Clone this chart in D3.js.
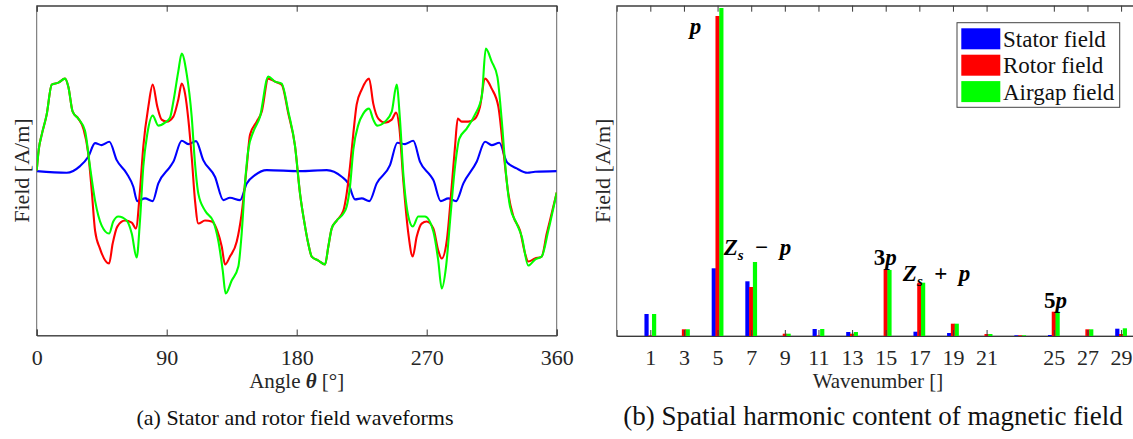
<!DOCTYPE html>
<html>
<head>
<meta charset="utf-8">
<script src="https://cdn.jsdelivr.net/npm/d3@7"></script>
<style>
  html, body { margin: 0; padding: 0; background: #fff; }
  svg { display: block; }
  text { font-family: "Liberation Serif", "Times New Roman", serif; }
</style>
</head>
<body>
<svg id="chart" width="1133" height="439"></svg>
<script>
// ---------------- DATA ----------------
// (a) field waveforms: [angle in degrees, field (arbitrary units)]
const statorField = [[0,-0.005],[20.8,-0.022],[30.0,0.045],[35.7,0.138],[40.4,0.275],[45.0,0.255],[50.3,0.288],[55.4,0.105],[62.3,-0.028],[66.9,-0.162],[69.6,-0.305],[75.0,-0.278],[80.3,-0.305],[84.2,-0.128],[92.3,0.038],[94.6,0.088],[100.4,0.298],[105.0,0.265],[110.3,0.295],[115.3,0.105],[123.4,-0.062],[129.2,-0.295],[133.8,-0.272],[140.8,-0.295],[145.4,-0.128],[151.1,-0.045],[159.2,0.005],[182.3,-0.005],[200.8,0.005],[211.2,-0.062],[215.7,-0.128],[220.4,-0.288],[225.0,-0.278],[230.3,-0.305],[235.4,-0.128],[244.6,0.055],[249.7,0.278],[255.0,0.265],[260.7,0.298],[265.4,0.088],[272.3,-0.045],[274.6,-0.095],[279.7,-0.305],[285.0,-0.278],[290.3,-0.305],[295.4,-0.128],[304.6,0.088],[310.4,0.288],[315.0,0.255],[320.3,0.278],[325.4,0.088],[332.3,0.022],[339.7,-0.022],[345.0,-0.012],[360,-0.005]];

const rotorField = [[0,0.00],[1.5,0.22],[3.5,0.36],[6.9,0.56],[10.4,0.86],[15.0,0.88],[19.6,0.92],[21.9,0.84],[24.9,0.59],[28.8,0.52],[32.3,0.42],[35.7,0.17],[38.1,-0.20],[40.4,-0.60],[43.8,-0.78],[50.1,-0.93],[52.6,-0.73],[55.8,-0.56],[61.1,-0.50],[65.8,-0.52],[68.7,-0.58],[71.5,-0.20],[73.8,0.24],[77.3,0.64],[80.3,0.86],[83.5,0.64],[86.5,0.51],[90.0,0.49],[94.6,0.54],[98.0,0.71],[100.4,0.87],[102.7,0.77],[105.0,0.51],[107.3,0.14],[109.6,-0.30],[111.9,-0.53],[116.5,-0.50],[121.2,-0.51],[125.0,-0.60],[128.1,-0.76],[130.4,-0.94],[133.8,-0.86],[138.5,-0.71],[141.9,-0.43],[145.4,0.04],[147.7,0.36],[152.3,0.49],[155.8,0.59],[160.3,0.92],[165.0,0.89],[169.6,0.86],[174.2,0.57],[178.8,0.25],[182.3,-0.23],[185.8,-0.56],[188.0,-0.73],[190.4,-0.86],[195.0,-0.90],[199.6,-0.94],[201.9,-0.76],[204.2,-0.58],[207.7,-0.50],[212.3,-0.40],[214.6,-0.23],[216.9,0.04],[219.2,0.37],[221.5,0.66],[225.0,0.81],[230.1,0.92],[233.0,0.67],[236.5,0.52],[241.1,0.48],[245.8,0.51],[248.8,0.58],[251.0,0.44],[253.8,-0.10],[257.3,-0.63],[260.3,-0.86],[263.1,-0.66],[266.5,-0.53],[270.0,-0.51],[274.6,-0.58],[278.0,-0.80],[280.4,-0.88],[283.9,-0.70],[287.3,-0.16],[289.6,0.24],[291.5,0.52],[294.2,0.49],[298.8,0.49],[303.4,0.52],[306.9,0.64],[310.4,0.92],[315.0,0.82],[319.6,0.64],[323.0,0.21],[326.5,-0.23],[330.0,-0.46],[334.6,-0.60],[338.1,-0.83],[340.3,-0.91],[345.0,-0.88],[349.6,-0.86],[353.1,-0.63],[356.5,-0.43],[360,-0.22]];

const airgapField = [[0,0.00],[1.5,0.22],[3.5,0.36],[6.9,0.56],[10.4,0.86],[15.0,0.88],[19.6,0.92],[21.9,0.84],[24.9,0.59],[28.8,0.52],[33.4,0.40],[36.9,0.04],[40.4,-0.30],[45.0,-0.55],[50.1,-0.63],[53.0,-0.51],[56.5,-0.46],[62.3,-0.50],[65.8,-0.63],[69.2,-0.87],[71.5,-0.50],[73.8,0.04],[76.6,0.37],[80.3,0.55],[84.2,0.45],[88.8,0.48],[92.3,0.53],[94.6,0.69],[98.0,0.99],[100.4,1.17],[103.8,0.97],[107.3,0.54],[109.6,0.07],[111.9,-0.23],[116.5,-0.40],[122.3,-0.51],[125.7,-0.70],[128.8,-1.00],[130.8,-1.23],[135.0,-1.10],[139.6,-0.96],[141.9,-0.63],[144.2,-0.13],[146.5,0.21],[150.0,0.39],[154.6,0.54],[160.3,0.94],[165.0,0.89],[169.6,0.87],[174.2,0.59],[178.8,0.25],[182.3,-0.23],[185.8,-0.56],[188.0,-0.73],[190.4,-0.86],[195.0,-0.90],[199.6,-0.94],[201.9,-0.76],[204.2,-0.58],[207.7,-0.50],[212.3,-0.43],[214.6,-0.36],[216.9,-0.16],[219.2,0.21],[222.7,0.46],[226.1,0.57],[230.1,0.62],[233.0,0.51],[235.8,0.45],[241.1,0.49],[245.8,0.59],[249.2,0.86],[251.5,0.51],[253.8,-0.03],[257.3,-0.46],[260.3,-0.56],[264.2,-0.46],[268.8,-0.46],[274.6,-0.61],[278.0,-0.90],[280.4,-1.18],[283.4,-0.96],[286.6,-0.43],[289.6,0.04],[292.6,0.32],[297.7,0.42],[303.4,0.56],[308.1,0.74],[310.9,1.22],[315.0,1.09],[318.9,0.94],[321.9,0.51],[324.9,-0.03],[327.7,-0.36],[332.3,-0.53],[335.8,-0.66],[340.3,-0.95],[345.0,-0.89],[349.6,-0.86],[354.2,-0.60],[360,-0.22]];

const angleTicks = [0, 90, 180, 270, 360];

// (b) spatial harmonics
const wavenumbers = [1, 3, 5, 7, 9, 11, 13, 15, 17, 19, 21, 23, 25, 27, 29];
const statorHarm = [0.22, 0, 0.677, 0.547, 0, 0.07, 0.04, 0, 0.043, 0.03, 0, 0.007, 0.01, 0, 0.073];
const rotorHarm  = [0.005, 0.067, 3.20, 0.49, 0.023, 0.005, 0.023, 0.66, 0.533, 0.123, 0.02, 0.007, 0.243, 0.067, 0.02];
const airgapHarm = [0.22, 0.067, 3.28, 0.74, 0.023, 0.07, 0.04, 0.66, 0.533, 0.123, 0.02, 0.007, 0.243, 0.067, 0.077];
const waveTicks = [1, 3, 5, 7, 9, 11, 13, 15, 17, 19, 21, 25, 27, 29];

const seriesNames = ["Stator field", "Rotor field", "Airgap field"];
const seriesColors = ["#0000ff", "#ff0000", "#00ff00"];

// harmonic annotations: [wavenumber position, field position, pieces]
const annotations = [
  { k: 3.35, v: 3.02, parts: [["p", "italic"]] },
  { k: 5.36, v: 0.81, parts: [["Z", "italic"], ["s", "sub"], ["\u2002\u2212\u2002", "normal"], ["p", "italic"]] },
  { k: 14.29, v: 0.71, parts: [["3", "normal"], ["p", "italic"]] },
  { k: 16.02, v: 0.554, parts: [["Z", "italic"], ["s", "sub"], ["\u2002+\u2002", "normal"], ["p", "italic"]] },
  { k: 24.42, v: 0.28, parts: [["5", "normal"], ["p", "italic"]] }
];

// ---------------- DRAWING ----------------
const svg = d3.select("#chart");
const axisColor = "#3a3a3a";
const textColor = "#262626";
const tickLen = 6;

// ===== Panel (a) =====
const A = { left: 36.7, right: 556.7, top: 5.7, bottom: 335.5 };
const xA = d3.scaleLinear().domain([0, 360]).range([A.left, A.right]);
const yA = d3.scaleLinear().domain([-1.65, 1.65]).range([A.bottom, A.top]);

const gA = svg.append("g");
gA.append("rect").attr("x", A.left).attr("y", A.top)
  .attr("width", A.right - A.left).attr("height", A.bottom - A.top)
  .attr("fill", "none").attr("stroke", "#666").attr("stroke-width", 1);

const axBottomA = d3.axisBottom(xA).tickValues(angleTicks).tickSize(-tickLen).tickFormat(d3.format("d"));
const gxa = gA.append("g").attr("transform", `translate(0,${A.bottom})`).call(axBottomA);
const axTopA = d3.axisTop(xA).tickValues(angleTicks).tickSize(-tickLen).tickFormat("");
const gxat = gA.append("g").attr("transform", `translate(0,${A.top})`).call(axTopA);
[gxa, gxat].forEach(g => {
  g.select(".domain").attr("stroke", axisColor);
  g.selectAll(".tick line").attr("stroke", axisColor);
});
gxa.selectAll(".tick text").attr("font-size", 22).attr("fill", textColor)
  .attr("font-family", "Liberation Serif").attr("dy", null).attr("y", 365 - A.bottom);

const line = d3.line().x(d => xA(d[0])).y(d => yA(d[1])).curve(d3.curveMonotoneX);
svg.append("clipPath").attr("id", "clipA").append("rect")
  .attr("x", A.left).attr("y", A.top).attr("width", A.right - A.left).attr("height", A.bottom - A.top);
const linesG = gA.append("g").attr("clip-path", "url(#clipA)");
[statorField, rotorField, airgapField].forEach((s, i) => {
  linesG.append("path").datum(s).attr("d", line)
    .attr("fill", "none").attr("stroke", seriesColors[i]).attr("stroke-width", 2.1)
    .attr("stroke-linejoin", "round");
});

const xlabA = gA.append("text").attr("x", (A.left + A.right) / 2).attr("y", 388)
  .attr("text-anchor", "middle").attr("font-size", 21).attr("fill", textColor);
xlabA.append("tspan").text("Angle ");
xlabA.append("tspan").text("\u03b8").attr("font-weight", "bold").attr("font-style", "italic");
xlabA.append("tspan").text(" [\u00b0]");

gA.append("text").attr("transform", `translate(29,${(A.top + A.bottom) / 2}) rotate(-90)`)
  .attr("text-anchor", "middle").attr("font-size", 22).attr("fill", textColor).text("Field [A/m]");

gA.append("text").attr("x", 295).attr("y", 425).attr("text-anchor", "middle")
  .attr("font-size", 22).attr("fill", "#111").text("(a) Stator and rotor field waveforms");

// ===== Panel (b) =====
const B = { left: 616.7, right: 1137.9, top: 5.7, bottom: 336 };
const xB = d3.scaleLinear().domain([-1, 30]).range([B.left, B.right]);
const yB = d3.scaleLinear().domain([0, 3.303]).range([B.bottom, B.top]);
const gB = svg.append("g");

gB.append("rect").attr("x", B.left).attr("y", B.top)
  .attr("width", B.right - B.left).attr("height", B.bottom - B.top)
  .attr("fill", "none").attr("stroke", "#666").attr("stroke-width", 1);

const barW = 0.25, offs = [-0.225, 0, 0.225];
const harmSeries = [statorHarm, rotorHarm, airgapHarm];
harmSeries.forEach((vals, si) => {
  gB.append("g").selectAll("rect").data(wavenumbers.map((k, i) => ({ k, v: vals[i] })))
    .join("rect")
    .attr("x", d => xB(d.k + offs[si] - barW / 2))
    .attr("width", d => xB(d.k + barW / 2) - xB(d.k - barW / 2))
    .attr("y", d => yB(d.v))
    .attr("height", d => yB(0) - yB(d.v))
    .attr("fill", seriesColors[si]);
});

const axBottomB = d3.axisBottom(xB).tickValues(waveTicks).tickSize(-tickLen).tickFormat(d3.format("d"));
const gxb = gB.append("g").attr("transform", `translate(0,${B.bottom})`).call(axBottomB);
const axTopB = d3.axisTop(xB).tickValues(waveTicks).tickSize(-tickLen).tickFormat("");
const gxbt = gB.append("g").attr("transform", `translate(0,${B.top})`).call(axTopB);
[gxb, gxbt].forEach(g => {
  g.select(".domain").attr("stroke", axisColor);
  g.selectAll(".tick line").attr("stroke", axisColor);
});
gxb.selectAll(".tick text").attr("font-size", 22).attr("fill", textColor)
  .attr("font-family", "Liberation Serif").attr("dy", null).attr("y", 365 - B.bottom);

gB.append("text").attr("x", 878).attr("y", 388).attr("text-anchor", "middle")
  .attr("font-size", 21).attr("fill", textColor).text("Wavenumber []");
gB.append("text").attr("transform", `translate(610,${(B.top + B.bottom) / 2}) rotate(-90)`)
  .attr("text-anchor", "middle").attr("font-size", 22).attr("fill", textColor).text("Field [A/m]");

// annotations
annotations.forEach(a => {
  const t = gB.append("text").attr("x", xB(a.k)).attr("y", yB(a.v))
    .attr("font-size", 23).attr("font-weight", "bold").attr("fill", "#000");
  let prevSub = false;
  a.parts.forEach(([str, style]) => {
    const sp = t.append("tspan").text(str);
    if (style === "italic") sp.attr("font-style", "italic");
    if (style === "normal") sp.attr("font-style", "normal");
    if (style === "sub") sp.attr("font-style", "italic").attr("font-size", 15).attr("dy", 5);
    else if (prevSub) sp.attr("dy", -5);
    prevSub = style === "sub";
  });
});

// legend
const L = { x: 957, y: 22.7, w: 162.7, h: 84.6 };
const lg = gB.append("g");
lg.append("rect").attr("x", L.x).attr("y", L.y).attr("width", L.w).attr("height", L.h)
  .attr("fill", "#fff").attr("stroke", "#444").attr("stroke-width", 1);
seriesNames.forEach((name, i) => {
  const yy = 28.3 + i * 26.4;
  lg.append("rect").attr("x", 961.3).attr("y", yy).attr("width", 39).attr("height", 21)
    .attr("fill", seriesColors[i]);
  lg.append("text").attr("x", 1003).attr("y", yy + 18.4).attr("font-size", 23)
    .attr("fill", "#111").text(name);
});

gB.append("text").attr("x", 873).attr("y", 425).attr("text-anchor", "middle")
  .attr("font-size", 27).attr("fill", "#111").text("(b) Spatial harmonic content of magnetic field");
</script>
</body>
</html>
